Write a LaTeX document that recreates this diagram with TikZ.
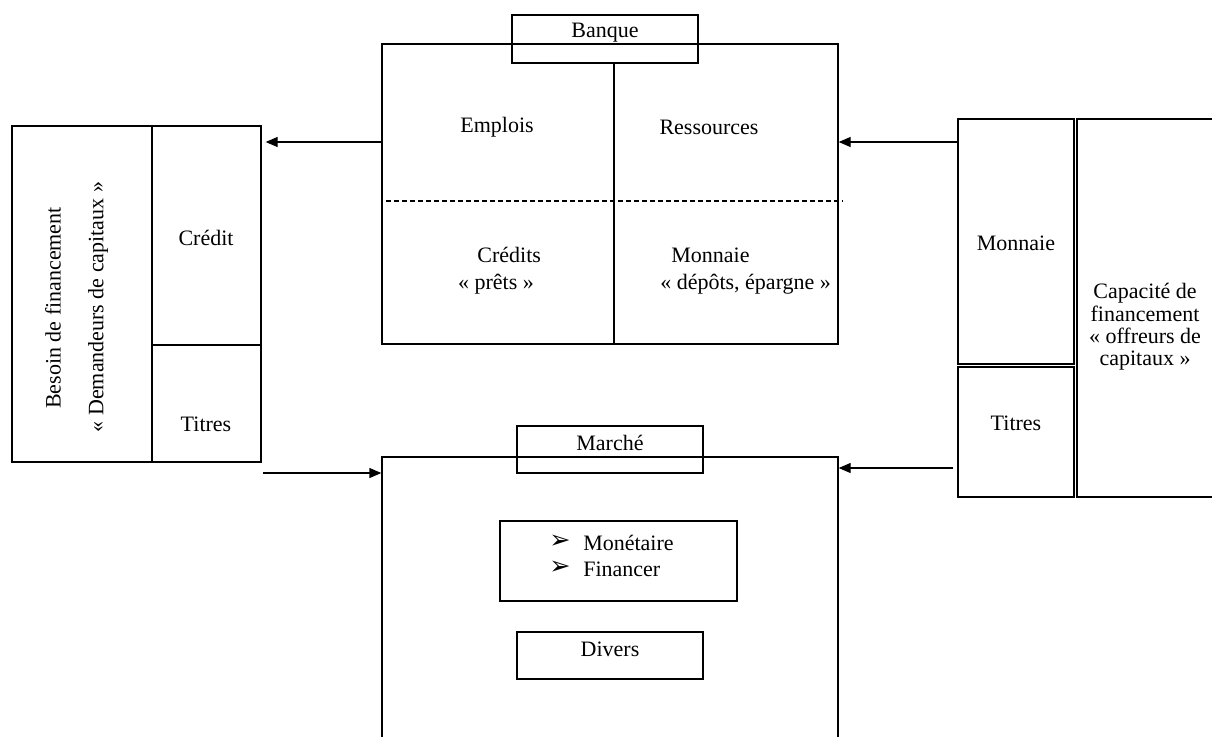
\documentclass[tikz,border=0pt]{standalone}
\usepackage{fontspec}
\setmainfont{Liberation Serif}
\newfontfamily\symfont{DejaVu Sans}
\usetikzlibrary{arrows.meta,fit}

\begin{document}
\begin{tikzpicture}[x=0.75pt,y=-0.75pt,
  font=\fontsize{16.5}{20}\selectfont,
  box/.style={draw,line width=1pt,inner sep=0pt},
  fleche/.style={line width=1pt,-{Triangle[length=9pt,width=7.5pt]}},
  txt/.style={inner sep=0pt}]
\useasboundingbox (0,0) rectangle (1212,736);
\clip (0,0) rectangle (1212,736);
% Besoin de financement
\node[box,fit={(12,126) (152,462)}] (besoin) {};
\node[box,fit={(152,126) (261,345)}] (creditG) {};
\node[box,fit={(152,345) (261,462)}] (titresG) {};
\draw[line width=1.4pt] (152,126) -- (152,462); % trait epais
\node[txt,rotate=90] (besoinA) at (53,308) {Besoin de financement};
\node[txt,rotate=90] (besoinB) at (98,307) {« Demandeurs de capitaux »};
\node[txt] (creditT) at (206,238) {Crédit};
\node[txt] (titresGT) at (206,424) {Titres};
% Banque
\node[box,fit={(382,44) (838,344)}] (banque) {};
\node[box,fit={(512,15) (698,63)}] (banqueTitre) {};
\node[txt] at (605,33) {Banque};
\draw[line width=1pt] (614,63) -- (614,344); % separation emplois / ressources
\draw[line width=1pt,dash pattern=on 3.75pt off 2.25pt] (386,201) -- (843,201); % pointilles
\node[txt] (emplois) at (497,127) {Emplois};
\node[txt] (ressources) at (709,127) {Ressources};
\node[txt,align=center] (credits) at (496,271) {\hspace*{1.2em}Crédits\\« prêts »};
\node[txt,align=center] (monnaieB) at (728,271) {Monnaie\hspace*{1.6em}\\\hspace*{1.6em}« dépôts, épargne »};
% Capacite de financement
\node[box,fit={(958,119) (1074,364)}] (monnaieD) {};
\node[box,fit={(958,367) (1074,497)}] (titresD) {};
\node[box,fit={(1077,119) (1240,497)}] (capacite) {};
\node[txt] (monnaieDT) at (1016,243) {Monnaie};
\node[txt] (titresDT) at (1016,423) {Titres};
\node[txt,align=center,font=\fontsize{16.5}{16.8}\selectfont] (capaciteT) at (1145,327)
  {Capacité de\\financement\\« offreurs de\\capitaux »};
% Marche
\node[box,fit={(382,457) (838,760)}] (marche) {};
\node[box,fit={(517,426) (703,473)}] (marcheTitre) {};
\node[txt] at (610,443) {Marché};
\node[box,fit={(500,521) (737,601)}] (liste) {};
\node[txt,anchor=west] (puce1) at (549,542) {\symfont\fontsize{19}{19}\selectfont ➢};
\node[txt,anchor=west] (puce2) at (549,568) {\symfont\fontsize{19}{19}\selectfont ➢};
\node[txt,anchor=west] (monetaire) at (583,543) {Monétaire};
\node[txt,anchor=west] (financer) at (583,569) {Financer};
\node[box,fit={(517,632) (703,679)}] (divers) {};
\node[txt] at (610,649) {Divers};
% Fleches
\coordinate (depart) at (263,473);
\draw[fleche,shorten >=3pt] (banque.west |- 0,142) -- (creditG.east |- 0,142);
\draw[fleche] (monnaieD.west |- 0,142) -- (banque.east |- 0,142);
\draw[fleche] (depart) -- (marche.west |- depart);
\draw[fleche,shorten <=3pt] (titresD.west |- 0,468) -- (marche.east |- 0,468);
\end{tikzpicture}
\end{document}
